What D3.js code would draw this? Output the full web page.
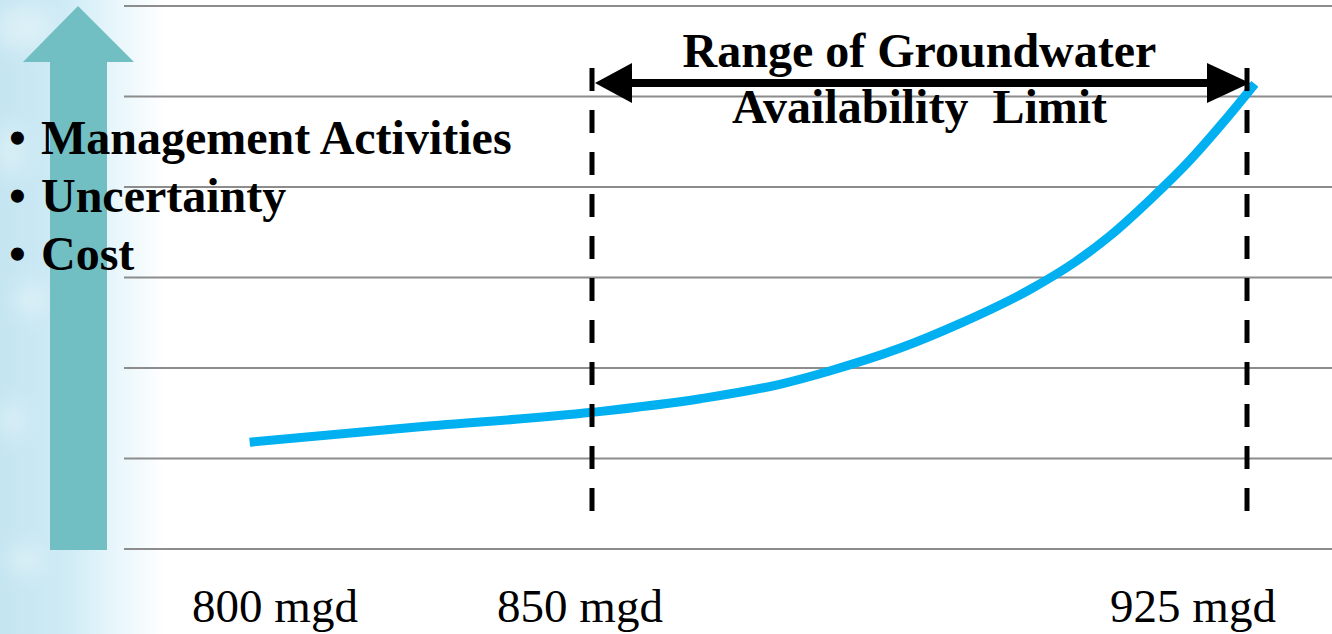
<!DOCTYPE html>
<html>
<head>
<meta charset="utf-8">
<script src="https://cdn.jsdelivr.net/npm/d3@7"></script>
<style>
  html, body { margin: 0; padding: 0; background: #ffffff; }
  svg { display: block; }
  text { font-family: "Liberation Serif", "Times New Roman", serif; }
</style>
</head>
<body>
<svg id="chart" width="1332" height="634"></svg>
<script>
// ---- data -------------------------------------------------------------
// Water demand (mgd) along the curve and the relative effort/cost level
const supplyMgd = [810.8, 830.3, 850.0, 862.4, 871.5, 877.3, 885.3, 892.1,
                   900.2, 905.3, 909.3, 913.9, 918.5, 922.5, 925.9];
const effortLevel = [1.18, 1.35, 1.51, 1.66, 1.82, 1.97, 2.22, 2.49,
                     2.87, 3.17, 3.46, 3.86, 4.30, 4.74, 5.14];

// Lower and upper bounds of the groundwater availability limit
const limitRange = [850, 925];

// Axis labels along the bottom
const tickValues = [800, 850, 925];
const tickLabels = ["800 mgd", "850 mgd", "925 mgd"];

// Grid levels on the vertical (unitless) scale
const gridLevels = [0, 1, 2, 3, 4, 5, 6];

// Items driven up by the vertical arrow
const driverItems = ["Management Activities", "Uncertainty", "Cost"];

const titleLines = ["Range of Groundwater", "Availability  Limit"];

// ---- layout -----------------------------------------------------------
const W = 1332, H = 634;
const svg = d3.select("#chart");

const x = d3.scaleLinear().domain([850, 925]).range([592, 1247]);
const y = d3.scaleLinear().domain([0, 6]).range([549, 6]);
// Label row positions for the bottom captions
const labelX = d3.scaleLinear().domain(tickValues).range([275, 580, 1193]);

const defs = svg.append("defs");

// Soft watery strip on the left edge
const grad = defs.append("linearGradient").attr("id", "strip")
  .attr("x1", 0).attr("x2", 1).attr("y1", 0).attr("y2", 0);
grad.append("stop").attr("offset", 0).attr("stop-color", "#c4e5f1");
grad.append("stop").attr("offset", 0.4).attr("stop-color", "#cfebf5");
grad.append("stop").attr("offset", 0.7).attr("stop-color", "#e8f6fb");
grad.append("stop").attr("offset", 1).attr("stop-color", "#ffffff");

defs.append("filter").attr("id", "soft")
  .attr("x", "-100%").attr("y", "-100%").attr("width", "300%").attr("height", "300%")
  .append("feGaussianBlur").attr("stdDeviation", 10);

svg.append("rect").attr("x", 0).attr("y", 0)
  .attr("width", 165).attr("height", H).attr("fill", "url(#strip)");

// faint highlights giving the strip its watery sheen
const sheen = [[22, 28, 30, 22], [10, 150, 14, 26], [30, 300, 16, 16],
               [12, 420, 12, 20], [25, 560, 18, 14]];
svg.append("g").attr("filter", "url(#soft)")
  .selectAll("ellipse").data(sheen).join("ellipse")
  .attr("cx", d => d[0]).attr("cy", d => d[1])
  .attr("rx", d => d[2]).attr("ry", d => d[3])
  .attr("fill", "#ffffff").attr("opacity", 0.35);

// Upward arrow
const arrowPath = d3.path();
arrowPath.moveTo(78, 6);
arrowPath.lineTo(134, 62);
arrowPath.lineTo(107, 62);
arrowPath.lineTo(107, 550);
arrowPath.lineTo(50, 550);
arrowPath.lineTo(50, 62);
arrowPath.lineTo(23, 62);
arrowPath.closePath();
svg.append("path").attr("d", arrowPath.toString()).attr("fill", "#71bec3");

// Horizontal grid
svg.append("g").selectAll("line").data(gridLevels).join("line")
  .attr("x1", 124).attr("x2", W)
  .attr("y1", d => y(d)).attr("y2", d => y(d))
  .attr("stroke", "#8c8c8c").attr("stroke-width", 2);

// Cost curve
const line = d3.line()
  .x((d, i) => x(supplyMgd[i]))
  .y(d => y(d))
  .curve(d3.curveMonotoneX);
svg.append("path").datum(effortLevel)
  .attr("d", line)
  .attr("fill", "none")
  .attr("stroke", "#00b0f0")
  .attr("stroke-width", 9);

// Dashed bounds of the availability limit
svg.append("g").selectAll("line").data(limitRange).join("line")
  .attr("x1", d => x(d)).attr("x2", d => x(d))
  .attr("y1", 68).attr("y2", 512)
  .attr("stroke", "#000").attr("stroke-width", 5)
  .attr("stroke-dasharray", "23 19");

// Double-headed range arrow
const ay = 83, headLen = 40, headHalf = 20;
const [xa, xb] = limitRange.map(x);
svg.append("line")
  .attr("x1", xa + headLen - 2).attr("x2", xb - headLen + 2)
  .attr("y1", ay).attr("y2", ay)
  .attr("stroke", "#000").attr("stroke-width", 8);
svg.append("path")
  .attr("d", `M${xa + 3},${ay} L${xa + headLen},${ay - headHalf} L${xa + headLen},${ay + headHalf} Z`)
  .attr("fill", "#000");
svg.append("path")
  .attr("d", `M${xb + 3},${ay} L${xb - headLen},${ay - headHalf} L${xb - headLen},${ay + headHalf} Z`)
  .attr("fill", "#000");

// Range title
svg.append("g").selectAll("text").data(titleLines).join("text")
  .attr("x", (xa + xb) / 2)
  .attr("y", (d, i) => 67 + i * 56)
  .attr("text-anchor", "middle")
  .attr("font-size", 48).attr("font-weight", "bold")
  .attr("xml:space", "preserve").style("white-space", "pre")
  .attr("fill", "#000")
  .text(d => d);

// Bulleted drivers
const items = svg.append("g").selectAll("g").data(driverItems).join("g")
  .attr("transform", (d, i) => `translate(0, ${154 + i * 58})`);
items.append("text").attr("x", 9).attr("y", 0)
  .attr("font-size", 48).attr("font-weight", "bold").text("\u2022");
items.append("text").attr("x", 41).attr("y", 0)
  .attr("font-size", 48).attr("font-weight", "bold").text(d => d);

// Bottom captions
svg.append("g").selectAll("text").data(tickValues).join("text")
  .attr("x", d => labelX(d))
  .attr("y", 622)
  .attr("text-anchor", "middle")
  .attr("font-size", 47)
  .text((d, i) => tickLabels[i]);
</script>
</body>
</html>
